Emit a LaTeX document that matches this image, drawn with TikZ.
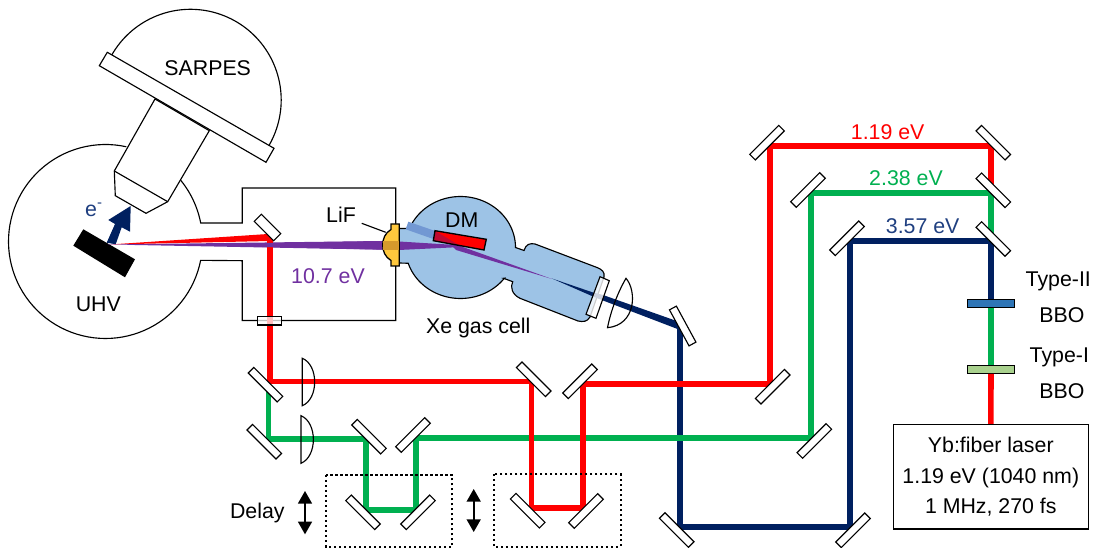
\documentclass[tikz,border=0pt]{standalone}
\usepackage{fontspec}
\setmainfont{Liberation Sans}
\usetikzlibrary{arrows.meta}
\definecolor{bred}{HTML}{FF0000}
\definecolor{bgreen}{HTML}{00B050}
\definecolor{bnavy}{HTML}{002060}
\definecolor{bpurple}{HTML}{7030A0}
\definecolor{cellblue}{HTML}{9DC3E6}
\definecolor{cellband}{HTML}{7298D3}
\definecolor{lifyellow}{HTML}{FFC83D}
\definecolor{lifbeam}{HTML}{D69A2C}
\definecolor{dmdark}{HTML}{C00830}
\definecolor{lblnavy}{HTML}{1F3F80}
\definecolor{bbotwo}{HTML}{2E75B6}
\definecolor{bboone}{HTML}{A9D18E}
\tikzset{
  outline/.style={draw=black,line width=0.85pt,line join=miter},
  mirror/.style={draw=black,fill=white,line width=0.85pt,inner sep=0pt,minimum width=30.75pt,minimum height=5.9pt},
  mirrorA/.style={mirror,rotate=-45},
  mirrorB/.style={mirror,rotate=45},
  beam/.style={line width=4.2pt,line join=miter,line cap=butt},
  lbl/.style={inner sep=0pt,font=\fontsize{16}{23}\selectfont},
  plate/.style={draw=black,line width=0.85pt,inner sep=0pt,minimum width=35.6pt,minimum height=5.8pt},
  delaybox/.style={draw=black,line width=1.5pt,dash pattern=on 1.6pt off 2.15pt},
  doublearrow/.style={line width=1.2pt,{Triangle[width=10.5pt,length=9.5pt]}-{Triangle[width=10.5pt,length=9.5pt]}}
}
\begin{document}
\begin{tikzpicture}[x=0.75pt,y=-0.75pt]
\useasboundingbox (0,0) rectangle (1096,548);
% UHV chamber and beamline housing
\draw[outline] plot[domain=77.6:348.8,samples=80] ({105.5+97*cos(\x)},{241.5-97*sin(\x)})
  -- (242.3,260.7) -- (242.3,320.5) -- (395.7,320.5) -- (395.7,188) -- (242.3,188) -- (242.3,223) -- (201.7,223)
  -- plot[domain=11:39,samples=12] ({105.5+97*cos(\x)},{241.5-97*sin(\x)});
% analyser dome
\draw[outline,fill=white] plot[domain=-29.7:150.3,samples=80] ({190.5+90.7*cos(\x)},{100-90.7*sin(\x)});
\draw[outline,fill=white] (155,99) -- (114.3,171) -- (115.3,195.7) -- (146,213.3) -- (167.7,201.7) -- (209.3,130.7) -- cycle;
\draw[outline] (114.3,171) -- (167.7,201.7);
\draw[outline,fill=white] (107.3,52.3) -- (99.3,65.7) -- (266,162.3) -- (274,148.3) -- cycle;
% Xe cell
\draw[outline,fill=cellblue] (399,228.5)
  -- plot[domain=158:0,samples=60] ({460.5+55*cos(\x)},{247.5-51*sin(\x)})
  -- (524,250.5) .. controls (526,244) and (530,243) .. (535,244) -- (597,267.5)
  .. controls (602,269.5) and (605,272) .. (604,277) -- (590,317)
  .. controls (587,322) and (583,322) .. (578,321) -- (520,298.3)
  .. controls (512,294.5) and (510,287) .. (512.7,281.7) -- (503.6,278.3)
  -- plot[domain=-37:-162,samples=50] ({460.5+55*cos(\x)},{247.5-51*sin(\x)})
  -- (399,263) -- cycle;
% sample and photoelectron arrow
\fill[black] (83.3,229.3) -- (73.3,245.7) -- (125,277.3) -- (135,259.3) -- cycle;
\fill[bnavy] (108.3,220) -- (130.7,206) -- (130,231.7) -- (121.7,227.3) -- (115.7,244.3) -- (106.7,242.7) -- (115,224) -- cycle;
% VUV and pump wedges
\fill[bred] (110,244.5) -- (268,234) -- (270,241) -- cycle;
\fill[bpurple] (108,244.5) -- (399,240.8) -- (399,250) -- cycle;
\fill[cellband] (408.3,221.7) -- (470,243) -- (456,247) -- (405.7,229.3) -- cycle;
\fill[bnavy] (552,278.5) -- (593,292.5) -- (603,295) -- (679,321.8) -- (677.5,329) -- (603,300.5) -- (593,296.5) -- cycle;
\fill[bpurple] (399,241.5) -- (456,245) -- (462,247) -- (399,250) -- cycle;
\fill[bpurple] (448,241.7) -- (552,279) -- (456,250) -- cycle;
% beam corner points
\coordinate (r0) at (269.7,236);
\coordinate (r1) at (269.7,381.5);
\coordinate (r2) at (531.5,381.5);
\coordinate (r3) at (531.5,508);
\coordinate (r4) at (582.7,508);
\coordinate (r5) at (582.7,384);
\coordinate (r6) at (770,384);
\coordinate (r7) at (770,146);
\coordinate (r8) at (991,146);
\coordinate (r9) at (991,190);
\coordinate (g0) at (991,193);
\coordinate (g1) at (811,193);
\coordinate (g2) at (811,438);
\coordinate (g3) at (415.7,438);
\coordinate (g4) at (415.7,510);
\coordinate (g5) at (366,510);
\coordinate (g6) at (366,439);
\coordinate (g7) at (268.5,439);
\coordinate (g8) at (268.5,388);
\coordinate (b0) at (991,241);
\coordinate (b1) at (850,241);
\coordinate (b2) at (850,527);
\coordinate (b3) at (679.7,527);
\coordinate (b4) at (679.7,325);
% Yb laser box and crystals
\node[outline,lbl,fill=white,minimum width=146pt,minimum height=78.5pt,align=center] (laser) at (990.8,476.7)
  {Yb:fiber laser\\1.19 eV (1040 nm)\\1 MHz, 270 fs};
\node[plate,fill=bbotwo] (bbo2) at (991,303.3) {};
\node[plate,fill=bboone] (bbo1) at (991,369.5) {};
% beams
\draw[beam,bnavy] (b0) -- (b1) -- (b2) -- (b3) -- (b4);
\draw[beam,bnavy] (b0) -- (bbo2.north);
\draw[beam,bgreen] (bbo2.south) -- (bbo1.north);
\draw[beam,bgreen] (b0) -- (g0) -- (g1) -- (g2) -- (g3) -- (g4) -- (g5) -- (g6) -- (g7) -- (g8);
\draw[beam,bred] (r0) -- (r1) -- (r2) -- (r3) -- (r4) -- (r5) -- (r6) -- (r7) -- (r8) -- (r9);
\draw[beam,bred] (bbo1.south) -- (laser.north);
% mirrors
\node[mirrorA,minimum width=20.5pt,minimum height=7.6pt] (m0) at (267.5,227.5) {};
\node[mirrorA] (ma) at (265.5,384.7) {};
\node[mirrorA] (mb) at (264.3,441.7) {};
\node[mirrorA] (mc) at (369,436.7) {};
\node[mirrorB] (md) at (413,435) {};
\node[mirrorA] (me) at (363,512.3) {};
\node[mirrorB] (mf) at (418,512.3) {};
\node[mirrorA] (mg) at (533.7,379.3) {};
\node[mirrorB] (mh) at (580,381.3) {};
\node[mirrorA] (mi) at (527.7,510.7) {};
\node[mirrorB] (mj) at (586,511) {};
\node[mirrorB] (mk) at (767,142.7) {};
\node[mirrorA] (ml) at (993.3,142.7) {};
\node[mirrorB] (mm) at (808,190) {};
\node[mirrorA] (mn) at (993.3,190.3) {};
\node[mirrorB] (mo) at (847,238.3) {};
\node[mirrorA] (mp) at (993.3,239) {};
\node[mirrorB] (mq) at (772.7,386.7) {};
\node[mirrorB] (mr) at (814.3,441) {};
\node[mirrorB] (ms) at (853,530.3) {};
\node[mirrorA] (mt) at (676.7,530) {};
\node[mirror,rotate=-61.5] (mu) at (682.7,326) {};
% purple beam redrawn across the chamber mirror edge
\fill[bpurple] (262,243.1) -- (399,240.8) -- (399,250) -- (262,247) -- cycle;
% focusing lenses
\draw[outline] (302.3,358.3) .. controls (318.8,365) and (318.8,399) .. (302.3,405.7) -- cycle;
\draw[outline] (301,415.7) .. controls (317.5,422.5) and (317.5,456.5) .. (301,463.3) -- cycle;
\draw[outline] (626,278.3) .. controls (637,291) and (636,325) .. (607.5,327.7) .. controls (611,310) and (618,292) .. (626,278.3) -- cycle;
% windows
\draw[outline,fill=white,fill opacity=0.75] (257.7,316.7) rectangle (281.7,325);
\draw[outline,fill=white,fill opacity=0.8] (600,276.7) -- (609.3,280.7) -- (596,318.3) -- (586,314.3) -- cycle;
% LiF window
\draw[outline,line width=0.95pt,fill=lifyellow] (391,224) -- (399.3,224) -- (399.3,266) -- (391,266) -- (391,260.5)
  .. controls (385,257) and (382.7,251) .. (382.7,245) .. controls (382.7,239) and (385,233) .. (391,229.5) -- cycle;
\fill[lifbeam] (383.3,241) -- (398.8,241) -- (398.8,250) -- (383.3,250) -- cycle;
\coordinate (lifa) at (361.7,223.3);
\coordinate (lifb) at (385.7,232.3);
\draw[outline] (lifa) -- (lifb);
% dichroic mirror
\fill[bred] (435,230.7) -- (486.3,239.3) -- (484,250) -- (433.3,240.7) -- cycle;
\fill[dmdark] (435,231) -- (458,244.5) -- (484,250) -- (433.3,240.7) -- cycle;
\draw[outline,line width=1pt] (435,230.7) -- (486.3,239.3) -- (484,250) -- (433.3,240.7) -- cycle;
% delay stages
\draw[delaybox] (326,475) rectangle (452.3,547);
\draw[delaybox] (494,474) rectangle (620.5,546.7);
\coordinate (d1a) at (305,491);
\coordinate (d1b) at (305,534.3);
\coordinate (d2a) at (473.7,489);
\coordinate (d2b) at (473.7,532);
\draw[doublearrow] (d1a) -- (d1b);
\draw[doublearrow] (d2a) -- (d2b);
% labels
\node[lbl] (tsarpes) at (207.7,68.3) {SARPES};
\node[lbl] (tuhv) at (98.3,304.3) {UHV};
\node[lbl,text=lblnavy] (te) at (94,210) {e\textsuperscript{-}};
\node[lbl,text=bpurple] (tvuv) at (328,276) {10.7 eV};
\node[lbl] (tdm) at (461.7,220) {DM};
\node[lbl] (tlif) at (341,214.3) {LiF};
\node[lbl] (txe) at (478.3,327.7) {Xe gas cell};
\node[lbl] (tdelay) at (257.3,512.7) {Delay};
\node[lbl,text=bred] (t119) at (887.7,131.7) {1.19 eV};
\node[lbl,text=bgreen] (t238) at (906,178.3) {2.38 eV};
\node[lbl,text=lblnavy] (t357) at (922.7,225.7) {3.57 eV};
\node[lbl] (ttwo) at (1058.3,281.7) {Type-II};
\node[lbl] (tbboa) at (1062,315) {BBO};
\node[lbl] (tone) at (1059.3,357.7) {Type-I};
\node[lbl] (tbbob) at (1062,391) {BBO};
\end{tikzpicture}
\end{document}
